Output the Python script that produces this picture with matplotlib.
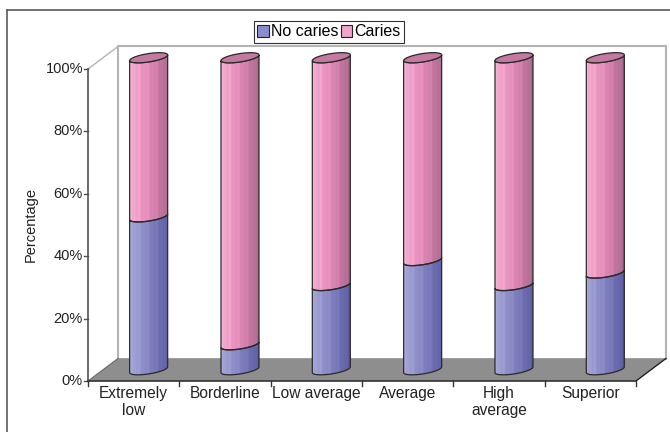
import numpy as np
import matplotlib.pyplot as plt
from matplotlib.patches import Polygon, Patch
from matplotlib.lines import Line2D
from matplotlib.colors import to_rgb

plt.rcParams['font.family'] = ['Liberation Sans', 'DejaVu Sans']

categories = ['Extremely\nlow', 'Borderline', 'Low average', 'Average', 'High\naverage', 'Superior']
no_caries = [49, 8, 27, 35, 27, 31]
caries = [51, 92, 73, 65, 73, 69]
yticks = [0, 20, 40, 60, 80, 100]

# plot box geometry, in pixels
W, H = 670, 432
px_cat = 91.33      # one category wide
px_pct = 3.12       # one percent high
x0_px, y0_px = 88, 381

fig = plt.figure(figsize=(W / 100, H / 100), dpi=100)
ax = fig.add_axes([0, 0, 1, 1])

n = len(categories)
dx = 30 / px_cat     # depth offset of the back wall
dy = 22.5 / px_pct


def shade(stops, m=80):
    stops = np.array([to_rgb(c) for c in stops])
    pos = np.linspace(0, 1, len(stops))
    u = np.linspace(0, 1, m)
    rgb = np.stack([np.interp(u, pos, stops[:, k]) for k in range(3)], axis=1)
    streak = 1 + 0.045 * np.cos(u * 41) * np.cos(u * 13)
    return np.clip(rgb * streak[:, None], 0, 1)[None, :, :]


blue_img = shade(['#aaaadc', '#9696ce', '#8484c2', '#7070b4', '#5c5ca0'])
pink_img = shade(['#f8b2d4', '#ee9cc6', '#e28ab8', '#c87aa4', '#a8688a'])

# back wall and floor
ax.add_patch(Polygon([(dx, dy), (n + dx, dy), (n + dx, 100 + dy), (dx, 100 + dy)],
                     facecolor='white', edgecolor='#b4b4b4', lw=1.5, zorder=1))
ax.add_patch(Polygon([(0, 0), (n, 0), (n + dx, dy), (dx, dy)],
                     facecolor='#8e8e8e', edgecolor='none', zorder=2))
ax.plot([n, n + dx], [0, dy], color='#222222', lw=1, zorder=2)
ax.plot([0, dx], [0, dy], color='#6a6a6a', lw=0.8, zorder=2)
ax.plot([0, dx], [100, 100 + dy], color='#b4b4b4', lw=1, zorder=2)

# cylinders
a = 0.5 * 38 / px_cat
b = 4.2 / px_pct
s = 0.15 * px_cat / px_pct
t_lo = np.linspace(np.pi, 2 * np.pi, 40)
t_all = np.linspace(0, 2 * np.pi, 80)


def lower_arc(cx, cy):
    return np.column_stack([cx + a * np.cos(t_lo),
                            cy + b * np.sin(t_lo) + s * a * np.cos(t_lo)])


for i in range(n):
    cx = i + 0.5 + dx / 2
    bottom = dy / 2
    for vals, img in [(no_caries, blue_img), (caries, pink_img)]:
        top = bottom + vals[i]
        outline = np.vstack([lower_arc(cx, top), lower_arc(cx, bottom)[::-1]])
        poly = Polygon(outline, closed=True, facecolor='none',
                       edgecolor='#2a2a2a', lw=0.9, zorder=4)
        ax.add_patch(poly)
        im = ax.imshow(img, extent=[cx - a, cx + a, bottom - b - s * a - 1, top + b + s * a + 1],
                       aspect='auto', interpolation='bilinear', zorder=3)
        im.set_clip_path(poly)
        bottom = top
    cap = np.column_stack([cx + a * np.cos(t_all),
                           bottom + b * np.sin(t_all) + s * a * np.cos(t_all)])
    ax.add_patch(Polygon(cap, facecolor='#c47aa0', edgecolor='#2a2a2a', lw=0.9, zorder=5))

# y axis
ax.plot([0, 0], [0, 100], color='#505050', lw=1.2, zorder=6)
for v in yticks:
    ax.plot([-4 / px_cat, 0], [v, v], color='#505050', lw=1, zorder=6)
    ax.text(-5 / px_cat, v, f'{v}%', ha='right', va='center', fontsize=10.5, color='#222222')
ax.text((31 - x0_px) / px_cat, 50, 'Percentage', rotation=90, ha='center', va='center',
        fontsize=10.5, color='#222222')

# x axis
ax.plot([0, n], [0, 0], color='#333333', lw=1.2, zorder=6)
for k in range(n + 1):
    ax.plot([k, k], [0, -5 / px_pct], color='#333333', lw=1, zorder=6)
for i, lab in enumerate(categories):
    ax.text(i + 0.5, -5 / px_pct, lab, ha='center', va='top', fontsize=11.2,
            linespacing=1.15, color='#222222')

ax.set_xlim(-x0_px / px_cat, (W - x0_px) / px_cat)
ax.set_ylim((y0_px - H) / px_pct, y0_px / px_pct)
ax.axis('off')

handles = [Patch(facecolor='#8c8cd0', edgecolor='#222222', lw=0.8),
           Patch(facecolor='#f2a4ca', edgecolor='#222222', lw=0.8)]
leg = fig.legend(handles, ['No caries', 'Caries'], loc='center',
                 bbox_to_anchor=(329 / W, 1 - 32 / H), ncol=2, frameon=True, fancybox=False,
                 edgecolor='black', fontsize=11.5, handlelength=0.7, handleheight=0.7,
                 handletextpad=0.12, columnspacing=0.2, borderpad=0.2, borderaxespad=0)
leg.get_frame().set_linewidth(0.8)

# outer chart frame
fig.add_artist(Line2D([7 / W, 7 / W], [0, 1 - 10 / H], transform=fig.transFigure,
                      color='#5a5a5a', lw=1.2))
fig.add_artist(Line2D([7 / W, 1], [1 - 10 / H, 1 - 10 / H], transform=fig.transFigure,
                      color='#5a5a5a', lw=1.2))

fig.savefig('out.png', dpi=100)
